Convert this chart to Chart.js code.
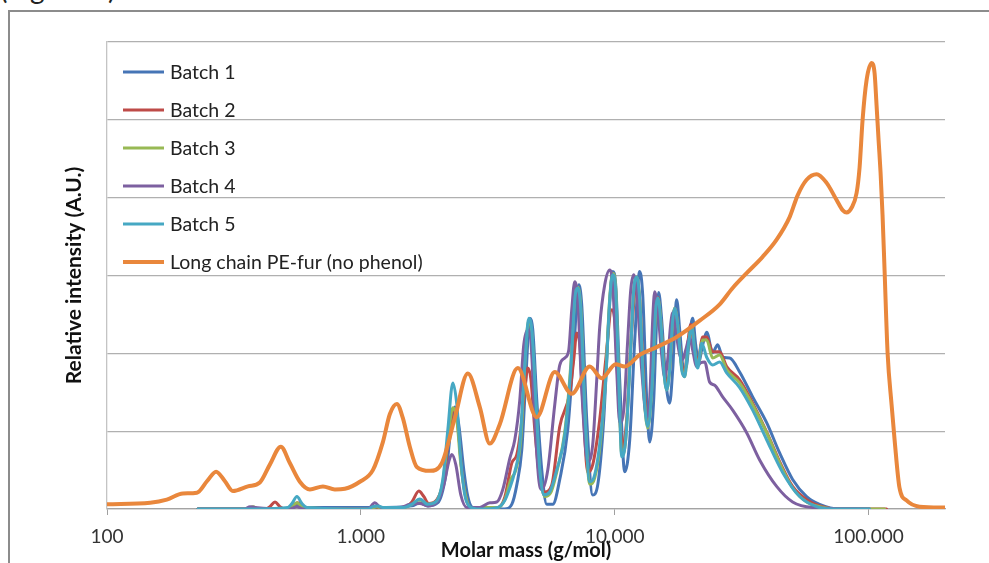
<!DOCTYPE html>
<html>
<head>
<meta charset="utf-8">
<script src="https://cdn.jsdelivr.net/npm/chart.js@4.4.1/dist/chart.umd.min.js"></script>
<style>
  html, body { margin: 0; padding: 0; background: #fff; overflow: hidden; }
  #wrap { position: relative; width: 989px; height: 563px; overflow: hidden; }
  #frame { position: absolute; left: 8px; top: 10px; width: 1200px; height: 800px;
           border-top: 2px solid #8c8c8c; border-left: 2px solid #8c8c8c; }
  #caption { position: absolute; left: 0; top: -29px; font: 28px Lato, sans-serif; color: #222; white-space: nowrap; }
  canvas { position: absolute; left: 0; top: 0; }
</style>
</head>
<body>
<div id="wrap">
  <div id="frame"></div>
  <div id="caption">(Figure 3)</div>
  <canvas id="chart" width="989" height="563"></canvas>
</div>
<script>
// Series names, in legend order
const seriesNames = ['Batch 1', 'Batch 2', 'Batch 3', 'Batch 4', 'Batch 5', 'Long chain PE-fur (no phenol)'];

// [molar mass (g/mol), relative intensity (A.U.)]
const batch1 = [[228,0],[525,0],[560,0.06],[591,0.02],[1135,0.02],[1588,0.04],[1707,0.08],[1836,0.04],[2010,0.08],[2161,0.44],[2261,1.02],[2345,1.31],[2431,1.08],[2544,0.50],[2638,0.16],[2760,0.02],[3689,0],[3931,0.06],[4114,0.31],[4304,0.76],[4463,1.66],[4628,2.45],[4756,2.30],[4931,1.40],[5160,0.50],[5399,0.06],[5701,0.06],[6074,0.38],[6531,1.02],[6896,2.04],[7216,2.88],[7415,2.62],[7758,1.15],[8192,0.18],[8572,0.31],[9051,1.15],[9471,2.43],[9820,3.05],[10090,2.88],[10460,1.66],[10950,0.48],[11460,0.89],[11990,2.17],[12540,3.05],[12890,2.75],[13370,1.40],[13730,0.86],[14240,1.40],[14630,2.43],[14900,2.78],[15310,2.43],[15880,1.66],[16460,1.36],[16920,1.79],[17540,2.69],[18030,2.30],[18690,1.79],[19210,1.85],[19740,2.24],[20280,2.45],[20840,2.11],[21420,1.89],[22210,2.11],[23030,2.27],[24310,2.01],[25440,2.11],[26620,1.95],[28360,1.94],[31050,1.76],[34940,1.44],[39670,1.11],[44630,0.72],[50210,0.38],[57010,0.16],[64130,0.06],[76880,0],[100900,0]];

const batch2 = [[228,0],[419,0],[438,0.03],[459,0.09],[480,0.03],[502,0],[535,0.04],[565,0.08],[591,0.03],[619,0],[1085,0],[1146,0.03],[1199,0],[1477,0.02],[1588,0.09],[1692,0.23],[1770,0.16],[1852,0.07],[1992,0.12],[2122,0.38],[2221,0.95],[2324,1.27],[2409,1.08],[2498,0.50],[2591,0.15],[2711,0.02],[3463,0.02],[3689,0.15],[3931,0.59],[4114,0.70],[4265,1.02],[4423,1.53],[4545,1.81],[4670,1.68],[4843,1.02],[5067,0.38],[5302,0.22],[5649,0.31],[6074,1.06],[6650,1.49],[6896,1.92],[7086,2.26],[7281,2.11],[7550,1.15],[7829,0.47],[8192,0.57],[8729,1.15],[9217,1.92],[9732,2.56],[10000,2.43],[10370,1.40],[10750,0.80],[11150,1.15],[11670,2.30],[12210,2.88],[12540,2.69],[13010,1.66],[13490,1.12],[13990,1.66],[14500,2.56],[14770,2.72],[15170,2.43],[15590,1.85],[16020,1.59],[16460,1.81],[16920,2.43],[17230,2.58],[17700,2.37],[18360,1.85],[18860,1.76],[19380,2.11],[19920,2.37],[20470,2.11],[21220,1.89],[22210,2.21],[23030,2.21],[24310,2.02],[25910,2.02],[27600,1.83],[31050,1.66],[34940,1.36],[39670,0.99],[44630,0.61],[50210,0.29],[57010,0.12],[64130,0.04],[76880,0],[117700,0]];

const batch3 = [[228,0],[359,0],[376,0.03],[393,0],[525,0],[560,0.08],[591,0.02],[1085,0],[1156,0.03],[1221,0],[1477,0.02],[1588,0.06],[1707,0.12],[1836,0.06],[1974,0.09],[2103,0.35],[2201,0.89],[2303,1.30],[2388,1.15],[2476,0.57],[2591,0.16],[2711,0.02],[3463,0.02],[3689,0.12],[3896,0.38],[4076,0.50],[4265,0.89],[4423,1.85],[4586,2.43],[4713,2.26],[4887,1.34],[5067,0.48],[5302,0.16],[5598,0.21],[5965,0.53],[6356,0.99],[6711,1.85],[6959,2.71],[7151,2.85],[7348,2.58],[7619,1.27],[7972,0.32],[8342,0.40],[8808,0.89],[9217,1.72],[9557,2.71],[9820,3.03],[10090,2.84],[10370,1.66],[10660,0.70],[11050,0.89],[11560,2.11],[11880,2.81],[12210,2.98],[12540,2.69],[13010,1.53],[13490,1.04],[13990,1.53],[14500,2.53],[14770,2.71],[15170,2.43],[15590,1.81],[16020,1.53],[16460,1.79],[16920,2.43],[17230,2.58],[17700,2.37],[18360,1.81],[18860,1.70],[19380,2.04],[20100,2.34],[20650,2.04],[21220,1.84],[22210,2.17],[23030,2.17],[24310,1.94],[25910,1.98],[27600,1.79],[31050,1.62],[34940,1.34],[39670,0.98],[44630,0.59],[50210,0.27],[57010,0.09],[64130,0.03],[76880,0],[115600,0]];

const batch4 = [[228,0],[349,0],[366,0.03],[383,0.02],[525,0],[560,0.03],[591,0],[1066,0],[1135,0.08],[1199,0.02],[1424,0.02],[1559,0.06],[1707,0.07],[1836,0.04],[1992,0.09],[2122,0.31],[2221,0.61],[2282,0.70],[2366,0.57],[2476,0.18],[2614,0.02],[2941,0.02],[3220,0.08],[3431,0.09],[3623,0.25],[3861,0.65],[4040,0.89],[4227,1.40],[4383,2.11],[4545,2.30],[4670,2.17],[4843,1.15],[5021,0.38],[5160,0.25],[5448,0.50],[5805,1.34],[6074,1.85],[6356,1.94],[6590,2.04],[6772,2.56],[6959,2.92],[7151,2.69],[7415,1.53],[7829,0.61],[8192,0.83],[8495,1.66],[8729,2.34],[9133,2.88],[9557,3.07],[9820,2.88],[10180,1.79],[10460,1.11],[10850,1.27],[11250,2.17],[11560,2.81],[11880,3.01],[12210,2.81],[12770,1.79],[13370,1.18],[13730,1.40],[14110,2.43],[14370,2.79],[14770,2.56],[15310,1.98],[15730,1.70],[16170,1.92],[16610,2.37],[16920,2.52],[17380,2.30],[18030,1.98],[18520,1.92],[19030,2.04],[19740,2.21],[20280,2.04],[21030,1.83],[21810,1.88],[22610,1.89],[23660,1.63],[24760,1.59],[26620,1.44],[29150,1.27],[33090,0.98],[37230,0.63],[43430,0.29],[50210,0.09],[60190,0.02],[100900,0]];

const batch5 = [[228,0],[349,0],[516,0.02],[535,0.07],[560,0.16],[586,0.07],[613,0.02],[1066,0],[1115,0.03],[1167,0.04],[1221,0.02],[1477,0.02],[1588,0.06],[1707,0.13],[1836,0.06],[1974,0.09],[2103,0.38],[2201,1.02],[2303,1.62],[2388,1.34],[2476,0.63],[2567,0.18],[2686,0.03],[2941,0],[3463,0.02],[3689,0.11],[3861,0.27],[4040,0.48],[4227,0.83],[4423,1.85],[4586,2.45],[4713,2.30],[4887,1.40],[5067,0.50],[5254,0.18],[5548,0.22],[5911,0.50],[6356,0.95],[6711,1.79],[6959,2.69],[7151,2.84],[7348,2.56],[7619,1.27],[7972,0.35],[8267,0.40],[8729,0.83],[9217,1.66],[9557,2.69],[9820,3.01],[10090,2.81],[10370,1.66],[10660,0.67],[11050,0.89],[11560,2.04],[11880,2.81],[12210,2.98],[12540,2.69],[13010,1.53],[13490,1.06],[13990,1.53],[14500,2.56],[14770,2.71],[15170,2.43],[15590,1.79],[16020,1.53],[16460,1.79],[16920,2.43],[17230,2.58],[17700,2.37],[18360,1.79],[18860,1.70],[19380,2.04],[20100,2.33],[20650,2.04],[21220,1.81],[22010,2.13],[23030,1.95],[24310,1.85],[25910,1.89],[27600,1.75],[31050,1.56],[34940,1.27],[39670,0.89],[45860,0.47],[53500,0.16],[62420,0.03],[72160,0],[100900,0]];

const longChain = [[100,0.06],[148,0.08],[172,0.12],[199,0.20],[226,0.21],[248,0.36],[269,0.48],[291,0.36],[313,0.23],[359,0.29],[400,0.34],[438,0.57],[484,0.80],[525,0.59],[575,0.35],[630,0.25],[709,0.29],[790,0.25],[865,0.26],[991,0.35],[1115,0.50],[1221,0.86],[1301,1.22],[1386,1.35],[1463,1.17],[1559,0.80],[1661,0.54],[1869,0.49],[2084,0.59],[2345,1.17],[2638,1.74],[2941,1.31],[3220,0.84],[3526,1.09],[4151,1.81],[4931,1.18],[5805,1.76],[6772,1.48],[7972,1.83],[8888,1.68],[10090,1.86],[10950,1.83],[12540,1.98],[14630,2.08],[17540,2.21],[21610,2.42],[25910,2.63],[29150,2.84],[33090,3.03],[38250,3.24],[43430,3.46],[48870,3.75],[52540,4.03],[57010,4.23],[62420,4.30],[68330,4.19],[74820,3.97],[79000,3.84],[81920,3.81],[85720,3.87],[89690,4.06],[92170,4.39],[94710,5.00],[98200,5.51],[102800,5.73],[105600,5.60],[107500,5.19],[109500,4.74],[111500,4.32],[113500,3.78],[115600,3.07],[118800,2.01],[123200,1.34],[126600,0.89],[132400,0.27],[141100,0.11],[158800,0.03],[199200,0.02]];

// Axis ticks
const xTickValues = [100, 1000, 10000, 100000];
const xTickLabels = ['100', '1.000', '10.000', '100.000'];

// Styling
const lineColors = ['#4675B6', '#BE4B48', '#98B954', '#7D60A0', '#46A8C3', '#E9873C'];
const lineWidths = [3, 3, 3, 3, 3, 4];
const FONT = 'Lato, "Open Sans", sans-serif';

Chart.defaults.font.family = FONT;

const seriesData = [batch1, batch2, batch3, batch4, batch5, longChain];
const datasets = seriesData.map((rows, i) => ({
  label: seriesNames[i],
  data: rows.map(([m, v]) => ({ x: m, y: v })),
  borderColor: lineColors[i],
  backgroundColor: lineColors[i],
  borderWidth: lineWidths[i],
  pointRadius: 0,
  fill: false,
  cubicInterpolationMode: 'monotone',
  borderCapStyle: 'round',
  borderJoinStyle: 'round',
  // later series are painted over earlier ones
  order: seriesData.length - 1 - i
}));

// Legend drawn inside the plot area, top-left, without a box
const insideLegend = {
  id: 'insideLegend',
  afterDatasetsDraw(chart) {
    const { ctx, chartArea } = chart;
    const x0 = chartArea.left + 16;
    const y0 = chartArea.top + 30;
    const rowH = 38;
    ctx.save();
    ctx.font = '19.5px ' + FONT;
    ctx.textBaseline = 'middle';
    ctx.textAlign = 'left';
    chart.data.datasets.forEach((ds, i) => {
      const y = y0 + i * rowH;
      ctx.strokeStyle = ds.borderColor;
      ctx.lineWidth = ds.borderWidth;
      ctx.lineCap = 'butt';
      ctx.beginPath();
      ctx.moveTo(x0, y);
      ctx.lineTo(x0 + 41, y);
      ctx.stroke();
      ctx.fillStyle = '#222';
      ctx.fillText(ds.label, x0 + 47, y + 1);
    });
    ctx.restore();
  }
};

new Chart(document.getElementById('chart'), {
  type: 'line',
  data: { datasets },
  plugins: [insideLegend],
  options: {
    responsive: false,
    animation: false,
    devicePixelRatio: 1,
    layout: { padding: { top: 42, right: 44, bottom: 0, left: 0 } },
    plugins: { legend: { display: false }, tooltip: { enabled: false } },
    scales: {
      x: {
        type: 'logarithmic',
        min: 100,
        max: 200000,
        afterBuildTicks: (s) => { s.ticks = xTickValues.map(v => ({ value: v, major: true })); },
        afterFit: (s) => { s.height = 54; },
        ticks: {
          autoSkip: false,
          maxRotation: 0,
          padding: 10,
          color: '#333',
          font: { size: 19 },
          callback: (v) => xTickLabels[xTickValues.indexOf(v)]
        },
        grid: { drawOnChartArea: false, drawTicks: true, tickLength: 6, color: '#a0a0a0', lineWidth: 1 },
        border: { color: '#a3a3a3', width: 1.3 },
        title: {
          display: true,
          text: 'Molar mass (g/mol)',
          color: '#111',
          font: { size: 20, weight: 'bold' },
          padding: { top: 0, bottom: 0 }
        }
      },
      y: {
        min: 0,
        max: 6,
        ticks: { display: false, stepSize: 1 },
        grid: { color: '#b0b0b0', lineWidth: 1.3, drawTicks: false },
        border: { display: true, color: '#c4c4c4', width: 1.3 },
        afterFit: (s) => { s.width = 107; },
        title: {
          display: true,
          text: 'Relative intensity (A.U.)',
          color: '#111',
          font: { size: 21, weight: 'bold' },
          padding: { top: 62, bottom: 0 }
        }
      }
    }
  }
});
</script>
</body>
</html>
